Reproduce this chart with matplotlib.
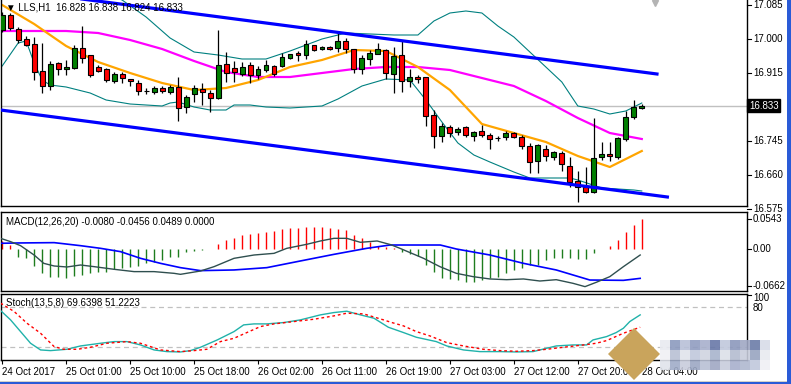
import numpy as np
import matplotlib.pyplot as plt
from matplotlib.patches import Rectangle, Polygon

plt.rcParams['font.family'] = ['Liberation Sans', 'DejaVu Sans']
plt.rcParams['font.size'] = 7

# ---- H1 candles, oldest first ----
opens = [17.022, 17.060, 17.025, 17.000, 16.988, 16.920, 16.882, 16.940, 16.925, 16.927,
         16.977, 16.960, 16.930, 16.925, 16.895, 16.912, 16.900, 16.890, 16.870, 16.868,
         16.877, 16.868, 16.880, 16.830, 16.863, 16.875, 16.865, 16.853, 16.937, 16.927,
         16.912, 16.935, 16.910, 16.922, 16.932, 16.932, 16.952, 16.965, 16.960, 16.985,
         16.975, 16.980, 16.977, 16.995, 16.975, 16.925, 16.950, 16.962, 16.972, 16.912,
         16.960, 16.895, 16.905, 16.905, 16.810, 16.757, 16.780, 16.768, 16.780, 16.758,
         16.770, 16.760, 16.752, 16.755, 16.765, 16.755, 16.733, 16.695, 16.725, 16.705,
         16.715, 16.682, 16.645, 16.630, 16.618, 16.705, 16.713, 16.705, 16.750, 16.805,
         16.828]
highs = [17.068, 17.065, 17.030, 17.008, 17.005, 16.990, 16.945, 16.943, 16.948, 16.985,
         17.032, 16.960, 16.935, 16.928, 16.918, 16.918, 16.900, 16.898, 16.877, 16.883,
         16.882, 16.885, 16.905, 16.860, 16.885, 16.890, 16.872, 17.022, 16.967, 16.945,
         16.943, 16.943, 16.932, 16.948, 16.935, 16.965, 16.963, 16.970, 16.997, 16.985,
         16.983, 16.983, 17.018, 17.002, 16.975, 16.960, 16.972, 16.990, 16.975, 16.980,
         16.997, 16.925, 16.910, 16.905, 16.822, 16.790, 16.785, 16.780, 16.782, 16.770,
         16.785, 16.765, 16.758, 16.770, 16.768, 16.760, 16.740, 16.738, 16.735, 16.720,
         16.720, 16.705, 16.670, 16.680, 16.802, 16.742, 16.742, 16.755, 16.820, 16.848,
         16.838]
lows = [17.018, 17.022, 16.990, 16.982, 16.898, 16.865, 16.872, 16.910, 16.910, 16.925,
        16.940, 16.905, 16.918, 16.893, 16.890, 16.890, 16.882, 16.860, 16.862, 16.862,
        16.865, 16.862, 16.795, 16.815, 16.842, 16.835, 16.818, 16.850, 16.892, 16.893,
        16.907, 16.890, 16.900, 16.918, 16.907, 16.930, 16.950, 16.945, 16.950, 16.970,
        16.972, 16.972, 16.967, 16.965, 16.915, 16.912, 16.935, 16.962, 16.900, 16.865,
        16.868, 16.880, 16.890, 16.783, 16.728, 16.743, 16.755, 16.760, 16.755, 16.745,
        16.755, 16.725, 16.745, 16.747, 16.752, 16.725, 16.665, 16.665, 16.695, 16.697,
        16.670, 16.630, 16.593, 16.615, 16.615, 16.698, 16.695, 16.700, 16.745, 16.800,
        16.824]
closes = [17.060, 17.028, 16.998, 16.985, 16.918, 16.882, 16.938, 16.925, 16.930, 16.977,
          16.952, 16.910, 16.920, 16.898, 16.912, 16.902, 16.895, 16.870, 16.870, 16.878,
          16.870, 16.880, 16.828, 16.855, 16.877, 16.868, 16.853, 16.935, 16.915, 16.917,
          16.930, 16.910, 16.925, 16.935, 16.912, 16.955, 16.962, 16.960, 16.987, 16.972,
          16.980, 16.975, 16.995, 16.975, 16.925, 16.952, 16.965, 16.975, 16.915, 16.957,
          16.895, 16.905, 16.900, 16.808, 16.757, 16.782, 16.765, 16.775, 16.760, 16.768,
          16.760, 16.750, 16.752, 16.765, 16.755, 16.733, 16.693, 16.735, 16.708, 16.717,
          16.688, 16.643, 16.630, 16.618, 16.703, 16.713, 16.708, 16.752, 16.805, 16.830,
          16.833]

# moving averages
ma_x = list(range(0, 81, 4))
ma_fast = [17.085, 17.0375, 16.9825, 16.9425, 16.915, 16.89, 16.8725, 16.8775, 16.8975, 16.93,
           16.9475, 16.9725, 16.97, 16.93, 16.8725, 16.7875, 16.765, 16.7425, 16.7075, 16.68, 16.72]
ma_slow = [17.02, 17.02, 17.02, 17.015, 16.9975, 16.975, 16.945, 16.9175, 16.905, 16.905,
           16.915, 16.925, 16.93, 16.93, 16.9225, 16.9025, 16.8825, 16.845, 16.8025, 16.765, 16.75]

# bollinger bands
bb_up_x = [0, 4, 8, 12, 15, 18, 21, 24, 27, 30, 33, 36, 40, 43, 46, 49, 52, 54, 56, 58,
           60, 62, 64, 66, 68, 70, 72, 74, 76, 78, 80]
bb_up = [17.16, 17.15, 17.14, 17.12, 17.0975, 17.055, 17.0025, 16.9675, 16.96, 16.95,
         16.95, 16.97, 17.0, 17.015, 17.0125, 17.01, 17.01, 17.045, 17.065, 17.07,
         17.065, 17.0325, 17.005, 16.9675, 16.93, 16.8925, 16.8325, 16.825, 16.8125, 16.82, 16.84]
bb_lo_x = [0, 2, 3, 4, 5, 6, 8, 11, 13, 16, 18, 20, 21, 22, 24, 26, 28, 29, 31, 33,
           36, 40, 42, 45, 48, 51, 53, 55, 57, 59, 61, 64, 66, 69, 71, 72, 75, 77, 79, 80]
bb_lo = [16.9325, 16.99, 16.995, 16.94, 16.8975, 16.885, 16.88, 16.865, 16.8475, 16.8375,
         16.835, 16.8325, 16.84, 16.8425, 16.83, 16.8225, 16.8225, 16.835, 16.835, 16.83,
         16.8275, 16.8325, 16.85, 16.8825, 16.9, 16.8975, 16.8475, 16.7925, 16.74, 16.71,
         16.6925, 16.6675, 16.6525, 16.6525, 16.6525, 16.6475, 16.6275, 16.625, 16.6225, 16.62]

# trend channel (two parallel lines)
chan_up_x = [-0.2, 81.9]
chan_up = [17.1265, 16.9125]
chan_lo_x = [-0.2, 83.2]
chan_lo = [16.8225, 16.605]

last_price = 16.833
price_ticks = [17.085, 17.000, 16.915, 16.745, 16.660, 16.575]

# MACD
macd_hist = [0.0145, 0.0072, -0.0139, -0.0169, -0.0308, -0.0441, -0.0501, -0.0501, -0.0531, -0.0483,
             -0.0471, -0.0441, -0.0411, -0.0411, -0.0362, -0.0338, -0.032, -0.0302, -0.026, -0.0242,
             -0.0199, -0.0139, -0.0139, -0.006, -0.0036, -0.0012, 0.0002, 0.0085, 0.0163, 0.0205,
             0.0254, 0.0266, 0.0284, 0.0314, 0.0326, 0.0356, 0.0374, 0.0386, 0.0405, 0.0393,
             0.0393, 0.0374, 0.0362, 0.0344, 0.0254, 0.0193, 0.0133, 0.006, 0.0036, 0.0024,
             -0.0048, -0.0097, -0.0121, -0.029, -0.0423, -0.0519, -0.0543, -0.0562, -0.0604, -0.0592,
             -0.0562, -0.0519, -0.0501, -0.0441, -0.038, -0.0338, -0.029, -0.029, -0.0199, -0.0169,
             -0.0157, -0.0169, -0.0187, -0.0187, -0.0079, -0.0005, 0.006, 0.0163, 0.0314, 0.0435,
             0.0543]
sig_x = [-0.2, 2, 6.5, 9.8, 12.3, 14.8, 17.3, 19.8, 22.3, 24.8, 29, 33.1, 37.3, 41.5, 45.6,
         48.5, 54.8, 56.8, 61, 65.2, 69.3, 73.5, 77.7, 79.8]
sig = [0.0103, 0.0109, 0.0115, 0.006, 0.0012, -0.0048, -0.0169, -0.026, -0.0338, -0.0392,
       -0.038, -0.0338, -0.0217, -0.0097, 0.0012, 0.0072, 0.0072, 0.0, -0.0109, -0.026,
       -0.038, -0.0562, -0.0568, -0.0532]
macd_x = [-0.2, 1.05, 2.3, 4, 5.2, 6.5, 8.1, 9.8, 11.5, 14, 16.5, 19, 21.5, 22.3, 24.8, 26.5,
          29, 31.5, 34, 35.6, 38.1, 39.8, 41.5, 43.1, 44.8, 46.9, 48.6, 49.75, 52.7, 54.75,
          56.8, 58.9, 61, 63.1, 65.2, 67.25, 69.3, 71.4, 72.9, 74.3, 76, 77.7, 79.8]
macd_line = [0.0193, 0.0133, 0.006, -0.011, -0.026, -0.0308, -0.0326, -0.029, -0.032, -0.0368,
             -0.041, -0.041, -0.0441, -0.0459, -0.0399, -0.032, -0.0169, -0.0109, -0.0079, 0.0012,
             0.0085, 0.0145, 0.0193, 0.0193, 0.0121, 0.0145, 0.0078, 0.0012, -0.0169, -0.032,
             -0.0441, -0.0501, -0.0543, -0.0556, -0.0543, -0.058, -0.0556, -0.0622, -0.0682, -0.0604,
             -0.0501, -0.032, -0.0109]

# Stochastic
st_main_x = [-0.2, 1.05, 2.3, 3.55, 4.8, 6.05, 8.1, 9.8, 12.3, 14, 15.6, 17.3, 19, 20.6, 22.3,
             23.55, 24.8, 26.9, 29, 30.2, 31.5, 33.1, 35.2, 37.3, 39.8, 41.5, 43.1, 44.8, 46.5,
             48.3, 50.2, 51.8, 54.3, 55.6, 57.7, 59.75, 62.25, 64.3, 66.4, 68.1, 69.3, 71.4,
             73.1, 73.9, 75.6, 76.8, 77.7, 78.5, 79.8]
st_main = [74.5, 60.5, 43, 25.5, 15.5, 14.5, 16.5, 21.5, 25.5, 28, 28, 23, 15.5, 13, 12.5,
           14.5, 19.5, 30.5, 43, 53, 54.5, 54.5, 56.5, 60.5, 68, 71.5, 73.5, 68, 63,
           49.5, 41.5, 34.5, 28, 21.5, 15.5, 13, 13, 12.5, 13, 18, 21.5, 23,
           23, 30.5, 35.5, 41.5, 48, 58, 68]
st_sig_x = [-0.2, 1.5, 3.1, 4.8, 6.5, 7.7, 9.4, 11.05, 13.1, 15.6, 17.3, 19.8, 22.3, 24, 25.6,
            27.3, 29, 30.6, 32.3, 34, 36.5, 39, 41.5, 43.1, 45.2, 47.7, 48.6, 50.2, 51.8,
            53.5, 55.6, 57.7, 60.2, 62.25, 64.3, 66.4, 68.1, 70.2, 72.7, 74.3, 75.6, 77.7, 79.8]
st_sig = [85.5, 73, 55.5, 40.5, 20.5, 16.5, 16.5, 19.5, 25.5, 28, 25.5, 15.5, 13, 14.5, 16.5,
          28, 33, 41.5, 50.5, 54.5, 58, 61.5, 66.5, 70.5, 69.5, 60.5, 57, 51.5, 43,
          36.5, 26.5, 21.5, 16.5, 14.5, 13.5, 14.5, 16.5, 19.5, 23, 25.5, 29.5, 40.5, 49.5]

time_pos = [0, 8, 16, 24, 32, 40, 48, 56, 64, 72, 80]
time_labels = ['24 Oct 2017', '25 Oct 01:00', '25 Oct 10:00', '25 Oct 18:00', '26 Oct 02:00',
               '26 Oct 11:00', '26 Oct 19:00', '27 Oct 03:00', '27 Oct 12:00', '27 Oct 20:00',
               '28 Oct 04:00']

# ---- layout in pixels, like the terminal window ----
W, H = 791, 384
AXW = 746.5
fig = plt.figure(figsize=(W / 100, H / 100), dpi=100)
fig.patch.set_facecolor('white')


def panel(top, bottom):
    a = fig.add_axes([0.5 / W, 1 - bottom / H, AXW / W, (bottom - top) / H])
    a.set_xlim(-0.21, 93.16)
    for s in a.spines.values():
        s.set_color('black')
        s.set_linewidth(1)
    a.set_yticks([])
    a.set_xticks([])
    return a


def right_label(a, value, text, tick=True):
    tr = a.get_yaxis_transform()
    if tick:
        a.plot([1, 1 + 4 / AXW], [value, value], color='black', lw=0.8, transform=tr, clip_on=False)
    a.text(1 + 6 / AXW, value, text, transform=tr, va='center', ha='left', fontsize=7, clip_on=False)


ax = panel(0, 206)
ax_m = panel(211.5, 291)
ax_s = panel(293.5, 360.3)
ax.spines['top'].set_visible(False)

# main chart
ax.set_ylim(16.5825, 17.0975)
x = np.arange(len(opens))
o = np.array(opens)
c = np.array(closes)
body_col = np.where(c >= o, '#008000', '#ff0000')

ax.axhline(last_price, color='#c0c0c0', lw=1, zorder=1)
ax.plot(bb_up_x, bb_up, color='#008080', lw=0.8, zorder=2)
ax.plot(bb_lo_x, bb_lo, color='#008080', lw=0.8, zorder=2)
ax.plot(ma_x, ma_slow, color='#ff00ff', lw=1.6, zorder=2)
ax.plot(ma_x, ma_fast, color='#ffa500', lw=1.6, zorder=2)
ax.vlines(x, lows, highs, color='black', lw=0.9, zorder=3)
ax.bar(x, np.abs(c - o), bottom=np.minimum(o, c), width=0.62, color=body_col,
       edgecolor='black', linewidth=0.8, zorder=4)
ax.plot(chan_up_x, chan_up, color='#0000ff', lw=2.3, zorder=5)
ax.plot(chan_lo_x, chan_lo, color='#0000ff', lw=2.3, zorder=5)

for v in price_ticks:
    right_label(ax, v, f'{v:.3f}')
ax.text(1 + 2 / AXW, last_price, '16.833', transform=ax.get_yaxis_transform(), color='white',
        va='center', ha='left', fontsize=7, clip_on=False, zorder=10,
        bbox=dict(facecolor='black', edgecolor='black', pad=1.2))
ax.plot([81.7], [17.0975 - 3 / 400], marker='v', ms=5, color='#b4b4b4', clip_on=False)
ax.text(5 / AXW, 1 - 7 / 206, '\u25bc LLS,H1  16.828 16.838 16.824 16.833', transform=ax.transAxes,
        va='center', ha='left', fontsize=7, zorder=11)

# MACD panel
ax_m.set_ylim(-0.0761, 0.0679)
ax_m.vlines(x, 0, macd_hist, colors=np.where(np.array(macd_hist) > 0, '#ff0000', '#1e7d1e'),
            lw=1.0, zorder=2)
ax_m.plot(sig_x, sig, color='#0000ff', lw=1.2, zorder=3)
ax_m.plot(macd_x, macd_line, color='#2f4f4f', lw=1.0, zorder=3)
for v, t in [(0.0543, '0.0543'), (0.0, '0.00'), (-0.0662, '-0.0662')]:
    right_label(ax_m, v, t)
ax_m.text(5 / AXW, 1 - 10.5 / 79.5, 'MACD(12,26,20) -0.0080 -0.0456 0.0489 0.0000',
          transform=ax_m.transAxes, va='center', ha='left', fontsize=7)

# Stochastic panel
ax_s.set_ylim(0, 100)
ax_s.axhline(80, color='#c0c0c0', lw=0.9, ls=(0, (4, 3)))
ax_s.axhline(20, color='#c0c0c0', lw=0.9, ls=(0, (4, 3)))
ax_s.plot(st_main_x, st_main, color='#20b2aa', lw=1.0, zorder=3)
ax_s.plot(st_sig_x, st_sig, color='#ff0000', lw=1.0, ls=(0, (2, 2)), zorder=3)
tr = ax_s.get_yaxis_transform()
ax_s.plot([1, 1 + 4 / AXW], [98, 98], color='black', lw=0.8, transform=tr, clip_on=False)
right_label(ax_s, 93.5, '100', tick=False)
right_label(ax_s, 78.5, '80', tick=False)
ax_s.text(5 / AXW, 1 - 9.5 / 66.8, 'Stoch(13,5,8) 69.6398 51.2223',
          transform=ax_s.transAxes, va='center', ha='left', fontsize=7)

ax_s.set_xticks(time_pos)
ax_s.set_xticklabels(time_labels, ha='left', fontsize=7)
ax_s.tick_params(axis='x', length=3, width=0.8, pad=1.5, direction='out')

# window frame
fig.patches.append(Rectangle((0, 0), 1, 2.5 / H, transform=fig.transFigure,
                             facecolor='#2a5bd7', edgecolor='none'))
fig.patches.append(Rectangle((0, 2.5 / H), 1, 1 / H, transform=fig.transFigure,
                             facecolor='#d4d0c8', edgecolor='none'))
fig.patches.append(Rectangle((786.5 / W, 0), 4.5 / W, 1, transform=fig.transFigure,
                             facecolor='#2a5bd7', edgecolor='none'))

# pixelated logo stamp in the lower right corner
fig.patches.append(Polygon([(608 / W, 1 - 354 / H), (634 / W, 1 - 328 / H), (660 / W, 1 - 354 / H),
                            (634 / W, 1 - 380 / H)], closed=True, transform=fig.transFigure,
                           facecolor='#c9a45c', edgecolor='none', zorder=20))
stamp_rows = [
    ['#e8eaf0', '#8c9abe', '#b8c0d8', '#909cc0', '#a8b0cc', '#6878a8', '#c0c8dc', '#8c98bc', '#a0a8c4', '#6c7ca8', '#d8dce8'],
    ['#f0f0f4', '#b8c0d4', '#e0e4ec', '#c0c8dc', '#d0d4e0', '#a8b4cc', '#dce0e8', '#b4bcd0', '#c8ccdc', '#98a4c0', '#e8eaf0'],
    ['#e0e4ec', '#a0acc8', '#c8ccdc', '#9ca8c4', '#b8c0d4', '#a0a8c4', '#c8ccdc', '#a8b0cc', '#b0b8d0', '#c0c8dc', '#f0f0f4'],
]
for r, row in enumerate(stamp_rows):
    for k, col in enumerate(row):
        fig.patches.append(Rectangle(((660 + 10 * k) / W, 1 - (350 + 10 * r) / H), 10 / W, 10 / H,
                                     transform=fig.transFigure, facecolor=col, edgecolor='none',
                                     alpha=0.9, zorder=19))

fig.savefig('out.png', dpi=100)
